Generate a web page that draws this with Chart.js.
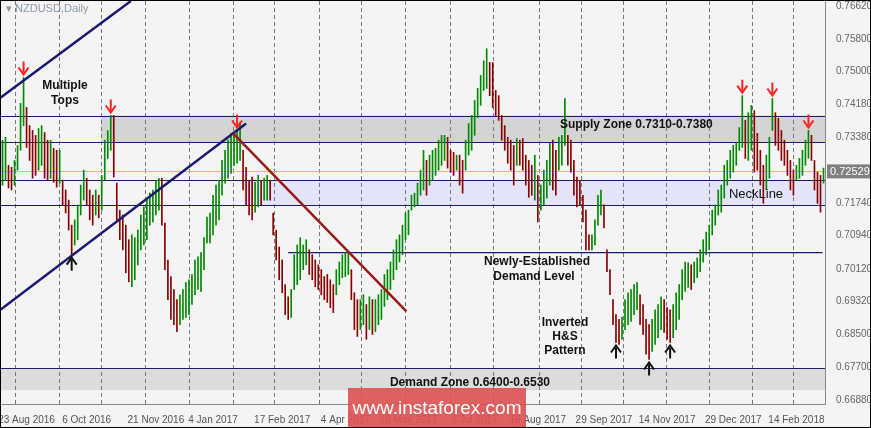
<!DOCTYPE html>
<html>
<head>
<meta charset="utf-8">
<script src="https://cdn.jsdelivr.net/npm/chart.js@4.4.1/dist/chart.umd.min.js"></script>
<style>
  body { margin: 0; background: #fff; }
  #wrap { position: relative; width: 871px; height: 428px; }
  canvas { background: #f4f4f4; }
  #frame { position: absolute; left: 0; top: 0; width: 869px; height: 426px; border: 1px solid #000; pointer-events: none; }
  .t { position: absolute; font-family: "Liberation Sans", Arial, sans-serif; font-size: 12px; color: #111; font-weight: bold; text-align: center; line-height: 15px; white-space: nowrap; }
  #title { position: absolute; left: 6px; top: 2px; font: 11px "Liberation Sans", Arial, sans-serif; color: #8a96a8; }
  #wm { position: absolute; left: 348px; top: 388px; width: 178px; height: 40px; background: rgba(221,80,80,0.9); color: #fff; font: 19px "Liberation Sans", Arial, sans-serif; line-height: 40px; text-align: center; }
</style>
</head>
<body>
<div id="wrap">
<canvas id="chart" width="871" height="428"></canvas>
<div id="title">&#9662; NZDUSD,Daily</div>
<div class="t" style="left:40px;top:78px;width:50px;">Multiple<br>Tops</div>
<div class="t" style="left:560px;top:117px;width:130px;">Supply Zone 0.7310-0.7380</div>
<div class="t" style="left:726px;top:186px;width:60px;font-weight:normal;font-size:13px;">NeckLine</div>
<div class="t" style="left:484px;top:254px;width:100px;">Newly-Established<br>Demand Level</div>
<div class="t" style="left:535px;top:315px;width:60px;line-height:14px;">Inverted<br>H&amp;S<br>Pattern</div>
<div class="t" style="left:370px;top:375px;width:200px;">Demand Zone 0.6400-0.6530</div>
<div id="wm">www.instaforex.com</div>
<div id="frame"></div>
</div>
<script>
// daily bar highs / lows in pips (0.0001)
const highs = [
  7330,7337,7268,7263,7280,7317,7421,7485,7411,7366,
  7354,7342,7359,7366,7349,7330,7330,7310,7305,7305,
  7231,7207,7182,7120,7133,7170,7219,7256,7236,7207,
  7194,7207,7194,7243,7330,7354,7391,7391,7224,7157,
  7145,7120,7084,7096,7089,7108,7145,7165,7182,7199,
  7207,7231,7236,7236,7125,7034,6993,6961,6936,6948,
  6961,6978,6985,6998,7034,7042,7052,7089,7140,7150,
  7194,7219,7231,7280,7305,7330,7347,7342,7354,7374,
  7305,7263,7231,7239,7226,7243,7231,7236,7243,7231,
  7150,7108,7066,7034,6973,6943,6961,7047,7071,7089,
  7071,7084,7059,7047,7034,7022,7010,6993,6998,6985,
  6973,7010,7029,7047,7052,7054,7010,6953,6936,6936,
  6948,6924,6943,6936,6936,6948,6961,6998,7010,7029,
  7059,7084,7096,7120,7150,7157,7194,7199,7224,7256,
  7305,7280,7293,7305,7310,7330,7342,7342,7337,7305,
  7300,7293,7293,7280,7330,7371,7391,7428,7458,7490,
  7526,7556,7522,7522,7453,7440,7391,7366,7337,7330,
  7317,7334,7330,7334,7293,7280,7268,7293,7243,7219,
  7256,7280,7322,7330,7305,7337,7342,7433,7342,7330,
  7280,7239,7231,7194,7157,7096,7096,7133,7194,7207,
  7170,7059,7010,6936,6899,6887,6892,6936,6953,6961,
  6973,6978,6948,6924,6887,6874,6887,6911,6924,6943,
  6936,6916,6911,6924,6953,6973,7010,7029,7027,7022,
  7029,7039,7059,7084,7103,7120,7157,7170,7207,7219,
  7268,7280,7305,7317,7322,7361,7440,7379,7398,7416,
  7403,7347,7305,7268,7293,7337,7433,7398,7384,7354,
  7330,7305,7280,7256,7268,7285,7305,7330,7354,7342,
  7280,7251,7243,7261
];
const lows = [
  7219,7231,7212,7207,7219,7256,7305,7366,7312,7280,
  7236,7243,7256,7268,7236,7231,7236,7226,7214,7224,
  7170,7150,7108,7047,7071,7084,7145,7182,7170,7133,
  7120,7145,7138,7157,7231,7285,7305,7239,7133,7084,
  7059,7002,6980,6968,6985,7022,7059,7071,7084,7120,
  7128,7145,7157,7120,7010,6936,6887,6874,6857,6874,
  6887,6892,6899,6924,6948,6961,6956,7010,7076,7076,
  7096,7120,7133,7194,7224,7236,7248,7268,7273,7280,
  7207,7170,7145,7133,7152,7165,7170,7182,7182,7182,
  7096,7034,6985,6953,6899,6887,6892,6961,6973,6985,
  7010,7022,6998,6985,6968,6961,6948,6936,6929,6916,
  6904,6948,6973,6990,6993,6998,6936,6862,6845,6862,
  6874,6838,6862,6850,6857,6874,6887,6919,6936,6961,
  6985,7010,7029,7047,7084,7096,7157,7165,7170,7194,
  7207,7194,7219,7231,7243,7256,7268,7280,7261,7251,
  7243,7256,7219,7199,7256,7293,7305,7342,7386,7416,
  7453,7458,7440,7411,7391,7379,7330,7305,7273,7256,
  7219,7268,7268,7256,7219,7189,7194,7182,7128,7157,
  7170,7187,7219,7207,7194,7256,7268,7317,7268,7251,
  7194,7165,7170,7128,7059,7059,7059,7071,7120,7145,
  7113,7005,6948,6874,6830,6825,6838,6862,6874,6882,
  6899,6911,6874,6850,6801,6788,6808,6825,6842,6862,
  6855,6838,6830,6842,6862,6887,6936,6956,6966,6961,
  6978,6990,7005,7029,7047,7059,7096,7120,7145,7152,
  7187,7219,7236,7251,7268,7305,7312,7285,7280,7305,
  7251,7256,7219,7174,7207,7236,7354,7317,7305,7280,
  7268,7243,7207,7194,7231,7236,7243,7268,7285,7280,
  7207,7174,7152,7224
];
const priceTicks = [0.7662, 0.7580, 0.7500, 0.7418, 0.7338, 0.7174, 0.7094, 0.7012, 0.6932, 0.6850, 0.6770, 0.6688];
const lastPrice = 0.72529;
const dateLabels = { 8: '23 Aug 2016', 28: '6 Oct 2016', 51: '21 Nov 2016', 70: '4 Jan 2017', 93: '17 Feb 2017',
  114: '4 Apr 2017', 135: '19 May 2017', 157: '3 Jul 2017', 178: '16 Aug 2017', 200: '29 Sep 2017',
  221: '14 Nov 2017', 243: '29 Dec 2017', 264: '14 Feb 2018' };
const gridIdx = [4, 18.7, 32.7, 47.3, 62, 76.7, 90.3, 105.3, 119.3, 134, 148.7, 163, 178.3, 192.3, 206.3, 220.7, 235, 249.3, 263];
const topArrows = [7, 36, 78, 246, 256, 268];
const bottomArrows = [23, 204, 215, 222];

const labels = highs.map((_, i) => i);
const bars = highs.map((h, i) => [lows[i] / 1e4, h / 1e4]);
const colors = highs.map((h, i) => {
    if (i === 0) return '#008000';
    return (h + lows[i]) >= (highs[i - 1] + lows[i - 1]) ? '#008a00' : '#8b0000';
});

function seg(ctx, x, y, x1, p1, x2, p2, color, w) {
    ctx.strokeStyle = color;
    ctx.lineWidth = w;
    ctx.beginPath();
    ctx.moveTo(x.getPixelForValue(x1), y.getPixelForValue(p1));
    ctx.lineTo(x.getPixelForValue(x2), y.getPixelForValue(p2));
    ctx.stroke();
}

const overlay = {
    id: 'overlay',
    beforeDatasetsDraw(chart) {
        const { ctx, chartArea: a, scales: { x, y } } = chart;
        ctx.save();
        ctx.beginPath();
        ctx.rect(a.left, a.top, a.right - a.left, a.bottom - a.top);
        ctx.clip();
        // zones
        ctx.fillStyle = '#d4d4d4';
        ctx.fillRect(x.getPixelForValue(32.7), y.getPixelForValue(0.7391), a.right, y.getPixelForValue(0.7325) - y.getPixelForValue(0.7391));
        ctx.fillStyle = '#e4e4f8';
        ctx.fillRect(x.getPixelForValue(80.3), y.getPixelForValue(0.7231), a.right, y.getPixelForValue(0.7170) - y.getPixelForValue(0.7231));
        ctx.fillStyle = '#dcdcdc';
        ctx.fillRect(a.left, y.getPixelForValue(0.6766), a.right, y.getPixelForValue(0.6712) - y.getPixelForValue(0.6766));
        // dashed grid
        ctx.strokeStyle = '#777';
        ctx.lineWidth = 1;
        ctx.setLineDash([4, 3]);
        gridIdx.forEach(g => {
            const px = Math.round(x.getPixelForValue(g)) + 0.5;
            ctx.beginPath();
            ctx.moveTo(px, a.top);
            ctx.lineTo(px, a.bottom);
            ctx.stroke();
        });
        ctx.setLineDash([]);
        // horizontal levels
        [0.7391, 0.7325, 0.7231, 0.7170, 0.6766].forEach(p => {
            const py = Math.round(y.getPixelForValue(p)) + 0.5;
            ctx.strokeStyle = '#1a1a6e';
            ctx.beginPath();
            ctx.moveTo(a.left, py);
            ctx.lineTo(a.right, py);
            ctx.stroke();
        });
        ctx.strokeStyle = '#f0c800';
        const ly = Math.round(y.getPixelForValue(lastPrice)) + 0.5;
        ctx.beginPath();
        ctx.moveTo(a.left, ly);
        ctx.lineTo(a.right, ly);
        ctx.stroke();
        seg(ctx, x, y, 95, 0.7052, 272.7, 0.7052, '#1a1a6e', 1.2);
        ctx.restore();
    },
    afterDatasetsDraw(chart) {
        const { ctx, chartArea: a, scales: { x, y } } = chart;
        ctx.save();
        ctx.beginPath();
        ctx.rect(a.left, a.top, a.right - a.left, a.bottom - a.top);
        ctx.clip();
        seg(ctx, x, y, -0.7, 0.7435, 42.7, 0.7674, '#1a1a6e', 2.5);
        seg(ctx, x, y, -0.7, 0.6911, 81, 0.7371, '#1a1a6e', 2.5);
        seg(ctx, x, y, 76.7, 0.7347, 134.3, 0.6907, '#9a1a1a', 2.5);
        // arrows
        const arrow = (cx, tip, dir, color) => {
            ctx.strokeStyle = color;
            ctx.lineWidth = 2;
            ctx.beginPath();
            ctx.moveTo(cx, tip - dir * 13);
            ctx.lineTo(cx, tip - dir * 2);
            ctx.stroke();
            ctx.beginPath();
            ctx.moveTo(cx - 5, tip - dir * 7);
            ctx.lineTo(cx, tip);
            ctx.lineTo(cx + 5, tip - dir * 7);
            ctx.stroke();
        };
        topArrows.forEach(i => arrow(x.getPixelForValue(i), y.getPixelForValue(highs[i] / 1e4) - 3, 1, '#ff2020'));
        bottomArrows.forEach(i => arrow(x.getPixelForValue(i), y.getPixelForValue(lows[i] / 1e4) + 3, -1, '#111'));
        ctx.restore();
        // current price box
        ctx.save();
        const py = y.getPixelForValue(lastPrice);
        ctx.fillStyle = '#808080';
        ctx.fillRect(a.right + 2, py - 7, 44, 14);
        ctx.fillStyle = '#fff';
        ctx.font = '11px "Liberation Sans", Arial, sans-serif';
        ctx.textBaseline = 'middle';
        ctx.fillText(lastPrice.toFixed(5), a.right + 5, py + 1);
        ctx.restore();
    }
};

new Chart(document.getElementById('chart'), {
    type: 'bar',
    data: {
        labels: labels,
        datasets: [{
            data: bars,
            backgroundColor: colors,
            barThickness: 1,
            borderWidth: 0
        }]
    },
    options: {
        responsive: false,
        animation: false,
        layout: { autoPadding: false, padding: { left: 1, top: 1, right: 0, bottom: 2 } },
        plugins: { legend: { display: false }, tooltip: { enabled: false } },
        scales: {
            x: {
                offset: true,
                grid: { display: false, drawTicks: true },
                border: { color: '#888' },
                ticks: {
                    autoSkip: false,
                    maxRotation: 0,
                    color: '#555',
                    padding: 2,
                    font: { size: 10, family: '"Liberation Sans", Arial, sans-serif' },
                    callback: (v, i) => dateLabels[i] || ''
                },
                afterFit: s => { s.height = 22; s.paddingLeft = 0; s.paddingRight = 0; }
            },
            y: {
                position: 'right',
                min: 0.6678,
                max: 0.7674,
                grid: { display: false },
                border: { color: '#888' },
                afterBuildTicks: s => { s.ticks = priceTicks.map(v => ({ value: v })); },
                afterTickToLabelConversion: s => { s.ticks.forEach(t => { t.label = t.value.toFixed(5); }); },
                ticks: {
                    color: '#666',
                    padding: 3,
                    font: { size: 10, family: '"Liberation Sans", Arial, sans-serif' }
                },
                afterFit: s => { s.width = 46; s.paddingTop = 0; s.paddingBottom = 0; }
            }
        }
    },
    plugins: [overlay]
});
</script>
</body>
</html>
